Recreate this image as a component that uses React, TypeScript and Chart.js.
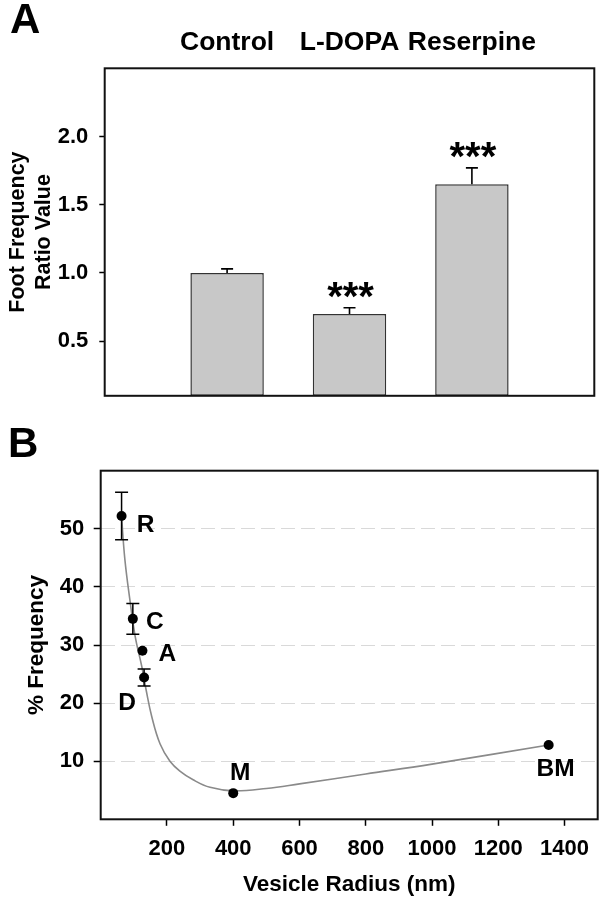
import React, { useEffect, useRef } from 'react';
import { Chart, registerables } from 'chart.js';

Chart.register(...registerables);

const FONT = "'Liberation Sans', Arial, Helvetica, sans-serif";

// ---------- Panel A data ----------
const groupsA = ['Control', 'L-DOPA', 'Reserpine'];
const ratioA = [1.0, 0.7, 1.65];
const ratioErrA = [0.03, 0.045, 0.12];
const starsA = ['', '***', '***'];
const yTicksA = [0.5, 1.0, 1.5, 2.0];
const yRangeA = [0.1, 2.5];

// ---------- Panel B data ----------
const pointLabelsB = ['R', 'C', 'A', 'D', 'M', 'BM'];
const radiusB = [63, 97, 126, 131, 400, 1352];
const freqB = [52.2, 34.5, 29.0, 24.4, 4.5, 12.8];
const freqErrB = [4.1, 2.65, 0, 1.45, 0, 0];
const fitRadiusB = [63, 73, 88, 104, 124, 137, 154, 179, 209, 239, 279, 330, 400, 500, 600, 800, 1000, 1352];
const fitFreqB = [52.0, 44.7, 37.8, 31.5, 26.3, 22.3, 17.7, 13.0, 10.0, 8.3, 6.8, 5.5, 4.9, 5.3, 6.1, 7.8, 9.5, 12.8];
const xTicksB = [200, 400, 600, 800, 1000, 1200, 1400];
const yTicksB = [10, 20, 30, 40, 50];
const xRangeB = [0, 1500];
const yRangeB = [0, 60];

// label placement (pixel offsets from each point) – styling only
const labelOffsetB = [[24, 8], [22, 2], [25, 2], [-17, 25], [7, -21], [7, 23]];

const drawFrame = (chart: any) => {
  const { ctx, chartArea: a } = chart;
  ctx.save();
  ctx.strokeStyle = '#111';
  ctx.lineWidth = 2;
  ctx.strokeRect(a.left, a.top, a.right - a.left, a.bottom - a.top);
  ctx.restore();
};

function PanelA() {
  const ref = useRef<HTMLCanvasElement>(null);
  useEffect(() => {
    const plugin = {
      id: 'panelA',
      afterDatasetsDraw(chart: any) {
        const { ctx } = chart;
        const xs = chart.scales.x;
        const ys = chart.scales.y;
        ctx.save();
        ctx.strokeStyle = '#000';
        ctx.fillStyle = '#000';
        ctx.lineWidth = 1.6;
        ratioA.forEach((v, i) => {
          const x = xs.getPixelForValue(i + 1);
          const y0 = ys.getPixelForValue(v);
          const y1 = ys.getPixelForValue(v + ratioErrA[i]);
          ctx.beginPath();
          ctx.moveTo(x, y0);
          ctx.lineTo(x, y1);
          ctx.moveTo(x - 6, y1);
          ctx.lineTo(x + 6, y1);
          ctx.stroke();
          if (starsA[i]) {
            ctx.font = `bold 40px ${FONT}`;
            ctx.textAlign = 'center';
            ctx.textBaseline = 'alphabetic';
            ctx.fillText(starsA[i], x + 1, y1 + 2);
          }
        });
        ctx.restore();
      },
      afterDraw(chart: any) {
        drawFrame(chart);
        const { ctx } = chart;
        ctx.save();
        ctx.fillStyle = '#000';
        ctx.font = `bold 42px ${FONT}`;
        ctx.textAlign = 'left';
        ctx.textBaseline = 'alphabetic';
        ctx.fillText('A', 10, 33);
        ctx.restore();
      },
    };
    const chart = new Chart(ref.current!, {
      type: 'bar',
      data: {
        labels: ['', ...groupsA, ''],
        datasets: [
          {
            data: [null, ...ratioA, null],
            backgroundColor: '#c8c8c8',
            borderColor: '#333',
            borderWidth: 1.5,
            borderSkipped: false,
            barPercentage: 0.6,
            categoryPercentage: 1,
            base: yRangeA[0],
          } as any,
        ],
      },
      options: {
        responsive: false,
        animation: false,
        layout: { padding: { left: 0, top: 0, right: 12.7, bottom: 9.3 } },
        plugins: { legend: { display: false }, tooltip: { enabled: false } },
        scales: {
          x: {
            position: 'top',
            offset: false,
            grid: { display: false, drawTicks: false },
            border: { display: false },
            ticks: {
              font: { family: FONT, size: 26.5, weight: 'bold' },
              color: '#000',
              padding: 10,
              maxRotation: 0,
              autoSkip: false,
            },
            afterFit: (s: any) => {
              s.height = 68.3;
            },
          },
          y: {
            min: yRangeA[0],
            max: yRangeA[1],
            afterBuildTicks: (s: any) => {
              s.ticks = yTicksA.map((v) => ({ value: v }));
            },
            grid: {
              drawOnChartArea: false,
              drawTicks: true,
              tickLength: 5.4,
              tickColor: '#000',
              tickWidth: 1.5,
            },
            border: { display: false },
            ticks: {
              font: { family: FONT, size: 22, weight: 'bold' },
              color: '#000',
              padding: 11,
              callback: (v: any) => Number(v).toFixed(1),
            },
            title: {
              display: true,
              text: ['Foot Frequency', 'Ratio Value'],
              font: { family: FONT, size: 21.5, weight: 'bold' },
              color: '#000',
              padding: { top: 5, bottom: 0 },
            },
            afterFit: (s: any) => {
              s.width = 104.7;
            },
          },
        },
      } as any,
      plugins: [plugin],
    });
    return () => chart.destroy();
  }, []);
  return (
    <canvas
      ref={ref}
      width={607}
      height={420}
      style={{ position: 'absolute', left: 0, top: 0, width: 607, height: 420 }}
    />
  );
}

function PanelB() {
  const ref = useRef<HTMLCanvasElement>(null);
  useEffect(() => {
    const plugin = {
      id: 'panelB',
      afterDatasetsDraw(chart: any) {
        const { ctx } = chart;
        const xs = chart.scales.x;
        const ys = chart.scales.y;
        ctx.save();
        ctx.strokeStyle = '#000';
        ctx.lineWidth = 1.5;
        radiusB.forEach((r, i) => {
          const e = freqErrB[i];
          if (!e) return;
          const x = xs.getPixelForValue(r);
          const yt = ys.getPixelForValue(freqB[i] + e);
          const yb = ys.getPixelForValue(freqB[i] - e);
          ctx.beginPath();
          ctx.moveTo(x, yt);
          ctx.lineTo(x, yb);
          ctx.moveTo(x - 6.5, yt);
          ctx.lineTo(x + 6.5, yt);
          ctx.moveTo(x - 6.5, yb);
          ctx.lineTo(x + 6.5, yb);
          ctx.stroke();
        });
        ctx.fillStyle = '#000';
        ctx.font = `bold 24.5px ${FONT}`;
        ctx.textAlign = 'center';
        ctx.textBaseline = 'middle';
        pointLabelsB.forEach((lab, i) => {
          const x = xs.getPixelForValue(radiusB[i]) + labelOffsetB[i][0];
          const y = ys.getPixelForValue(freqB[i]) + labelOffsetB[i][1];
          ctx.fillText(lab, x, y + 1);
        });
        ctx.restore();
      },
      afterDraw(chart: any) {
        drawFrame(chart);
        const { ctx } = chart;
        ctx.save();
        ctx.fillStyle = '#000';
        ctx.font = `bold 42px ${FONT}`;
        ctx.textAlign = 'left';
        ctx.textBaseline = 'alphabetic';
        ctx.fillText('B', 8, 36.7);
        ctx.restore();
      },
    };
    const chart = new Chart(ref.current!, {
      type: 'scatter',
      data: {
        datasets: [
          {
            type: 'scatter',
            data: radiusB.map((r, i) => ({ x: r, y: freqB[i] })),
            pointRadius: 5,
            pointBackgroundColor: '#000',
            pointBorderColor: '#000',
            pointBorderWidth: 0,
          },
          {
            type: 'line',
            data: fitRadiusB.map((r, i) => ({ x: r, y: fitFreqB[i] })),
            borderColor: '#8a8a8a',
            borderWidth: 1.6,
            pointRadius: 0,
            fill: false,
            tension: 0.4,
          },
        ] as any,
      },
      options: {
        responsive: false,
        animation: false,
        layout: { padding: { left: 0, top: 50.7, right: 9.3, bottom: 0 } },
        plugins: { legend: { display: false }, tooltip: { enabled: false } },
        scales: {
          x: {
            type: 'linear',
            min: xRangeB[0],
            max: xRangeB[1],
            afterBuildTicks: (s: any) => {
              s.ticks = xTicksB.map((v) => ({ value: v }));
            },
            grid: {
              drawOnChartArea: false,
              drawTicks: true,
              tickLength: 6.5,
              tickColor: '#000',
              tickWidth: 1.5,
            },
            border: { display: false },
            ticks: {
              font: { family: FONT, size: 22, weight: 'bold' },
              color: '#000',
              padding: 10,
              maxRotation: 0,
              autoSkip: false,
              callback: (v: any) => String(v),
            },
            title: {
              display: true,
              text: 'Vesicle Radius (nm)',
              font: { family: FONT, size: 22.5, weight: 'bold' },
              color: '#000',
              padding: { top: 0, bottom: 1 },
            },
            afterFit: (s: any) => {
              s.height = 79.7;
            },
          },
          y: {
            type: 'linear',
            min: yRangeB[0],
            max: yRangeB[1],
            afterBuildTicks: (s: any) => {
              s.ticks = yTicksB.map((v) => ({ value: v }));
            },
            grid: {
              drawOnChartArea: true,
              color: '#d9d9d9',
              lineWidth: 1,
              drawTicks: true,
              tickLength: 7,
              tickColor: '#000',
              tickWidth: 1.5,
            },
            border: { display: false, dash: [14, 6] },
            ticks: {
              font: { family: FONT, size: 22, weight: 'bold' },
              color: '#000',
              padding: 9.5,
              callback: (v: any) => String(v),
            },
            title: {
              display: true,
              text: '% Frequency',
              font: { family: FONT, size: 22.5, weight: 'bold' },
              color: '#000',
              padding: { top: 23, bottom: 0 },
            },
            afterFit: (s: any) => {
              s.width = 100.7;
            },
          },
        },
      } as any,
      plugins: [plugin],
    });
    return () => chart.destroy();
  }, []);
  return (
    <canvas
      ref={ref}
      width={607}
      height={479}
      style={{ position: 'absolute', left: 0, top: 420, width: 607, height: 479 }}
    />
  );
}

export default function App() {
  return (
    <div style={{ position: 'absolute', left: 0, top: 0, width: 607, height: 899, background: '#fff' }}>
      <PanelA />
      <PanelB />
    </div>
  );
}
